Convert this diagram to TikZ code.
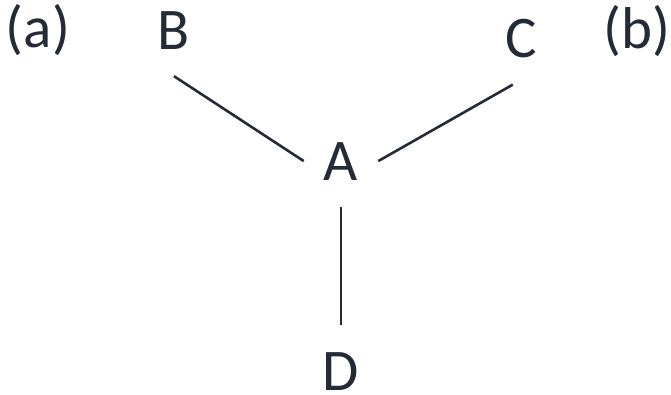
\documentclass[tikz,border=0pt]{standalone}
\usepackage{fontspec}
\setmainfont{Carlito}
\definecolor{ink}{HTML}{232B36}

\begin{document}
\begin{tikzpicture}[x=1pt,y=-1pt,font=\fontsize{59}{68}\selectfont,
  lbl/.style={anchor=base,text=ink,inner xsep=20pt,inner ysep=27pt},
  bond/.style={draw=ink,line width=2.6pt}]
\useasboundingbox (0,0) rectangle (671,394);
% panel tags
\node[lbl] (pa) at (38,47) {(a)};
\node[lbl] (pb) at (637,48) {(b)};
% centre atom and its three neighbours
\node[lbl] (A) at (341,180) {A};
\node[lbl] (B) at (174,49) {B};
\node[lbl] (C) at (521,57) {C};
\node[lbl] (D) at (341,390) {D};
\draw[bond] (B.south)--(A.west);
\draw[bond] (C.-100)--(A.east);
\draw[bond] (A.south)--(D.north);
\end{tikzpicture}
\end{document}
